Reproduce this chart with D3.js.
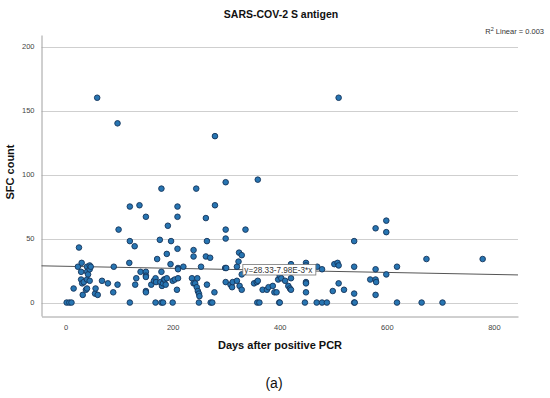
<!DOCTYPE html>
<html>
<head>
<meta charset="utf-8">
<script src="https://cdn.jsdelivr.net/npm/d3@7"></script>
<style>
  body { margin: 0; background: #fff; }
  text { font-family: "Liberation Sans", Arial, sans-serif; }
</style>
</head>
<body>
<div id="chart"></div>
<script>
// days after PCR, SFC count
var days = [2, 7, 11, 120, 168, 179, 182, 200, 249, 271, 274, 358, 362, 399, 400, 447, 469, 479, 488, 539, 540, 619, 665, 704,
  15, 23, 25, 29, 29, 30, 31, 32, 34, 38, 40, 40, 40, 40, 42, 45, 45, 45, 47, 55, 56, 59, 60, 68, 79, 89, 90, 97, 97, 99,
  119, 120, 120, 129, 130, 132, 138, 140, 150, 150, 150, 150, 150, 150, 160, 165, 168, 169, 171, 176, 177, 179, 179, 180, 182, 184, 185, 187, 189, 189, 191, 196, 197, 200, 204, 208,
  209, 209, 209, 210, 210, 210, 220, 236, 239, 239, 239, 242, 244, 245, 246, 247, 249, 250, 253, 262, 262, 264, 264, 270, 278, 279, 279, 298, 299, 299, 299, 299, 300,
  308, 311, 312, 320, 320, 323, 324, 325, 329, 329, 329, 336, 352, 357, 359, 359, 368, 376, 379, 387, 390, 394, 397, 400, 403,
  410, 416, 419, 421, 421, 421, 449, 449, 449, 449, 449, 470, 479, 499, 502, 508, 510, 510, 510, 520,
  539, 539, 539, 569, 579, 579, 579, 580, 579, 599, 599, 599, 619, 674, 779];
var sfc = [0, 0, 0, 0, 0, 0, 0, 0, 0, 0, 0, 0, 0, 0, 0, 0, 0, 0, 0, 0, 0, 0, 0, 0,
  11, 28, 43, 24, 18, 31, 15, 6, 16, 10, 28, 24, 18, 11, 22, 29, 26, 17, 28, 7, 11, 160, 6, 17, 15, 8, 28, 14, 140, 57,
  31, 75, 48, 44, 14, 19, 76, 24, 67, 24, 21, 20, 9, 8, 14, 17, 19, 16, 34, 49, 16, 89, 24, 13, 15, 18, 18, 14, 38, 19, 60, 30, 48, 17, 18, 10,
  75, 67, 42, 27, 26, 19, 28, 19, 41, 36, 15, 15, 89, 12, 19, 9, 7, 5, 28, 66, 36, 48, 14, 35, 8, 76, 130, 27, 94, 57, 50, 16, 27,
  14, 12, 16, 28, 17, 32, 39, 13, 37, 22, 10, 57, 15, 16, 96, 17, 10, 10, 12, 13, 8, 8, 18, 21, 19,
  17, 13, 11, 30, 19, 10, 31, 29, 16, 15, 8, 28, 26, 9, 30, 31, 29, 160, 15, 10,
  48, 28, 7, 18, 58, 26, 18, 16, 6, 64, 55, 22, 28, 34, 34];
var xTicks = [0, 200, 400, 600, 800];
var yTicks = [0, 50, 100, 150, 200];
var fitA = 28.33, fitB = -7.98e-3;

var width = 550, height = 398;
var svg = d3.select("#chart").append("svg")
  .attr("width", width).attr("height", height);

var x = d3.scaleLinear().domain([-45, 845]).range([41.5, 518]);
var y = d3.scaleLinear().domain([-10.5, 209]).range([316, 35]);

// gridlines
svg.append("g").selectAll("line")
  .data(yTicks).enter().append("line")
  .attr("x1", 41.5).attr("x2", 518)
  .attr("y1", function (d) { return Math.round(y(d)) + 0.5; })
  .attr("y2", function (d) { return Math.round(y(d)) + 0.5; })
  .attr("stroke", "#cfcfcf").attr("stroke-width", 1);

// axes
var yAxis = svg.append("g").attr("transform", "translate(41.5,0)")
  .call(d3.axisLeft(y).tickValues(yTicks).tickSize(0).tickPadding(7));
var xAxis = svg.append("g").attr("transform", "translate(0,316.5)")
  .call(d3.axisBottom(x).tickValues(xTicks).tickSize(0).tickPadding(8));
[yAxis, xAxis].forEach(function (a) {
  a.select(".domain").attr("stroke", "#a0a0a0");
  a.selectAll("text").attr("font-size", 7.5).attr("fill", "#444")
    .attr("font-family", "Liberation Sans, Arial, sans-serif");
});

// fit line
var xd = x.domain();
svg.append("line")
  .attr("x1", x(xd[0])).attr("y1", y(fitA + fitB * xd[0]))
  .attr("x2", x(xd[1])).attr("y2", y(fitA + fitB * xd[1]))
  .attr("stroke", "#555").attr("stroke-width", 1);

// points
svg.append("g").selectAll("circle")
  .data(days).enter().append("circle")
  .attr("cx", function (d) { return x(d); })
  .attr("cy", function (d, i) { return y(sfc[i]); })
  .attr("r", 2.8)
  .attr("fill", "#2775b2")
  .attr("stroke", "#15345a")
  .attr("stroke-width", 0.9);

// equation label
var lx = 332;
var lab = svg.append("g").attr("transform", "translate(" + (x(lx) - 0.5) + "," + 264.5 + ")");
lab.append("rect").attr("width", 73).attr("height", 10.5)
  .attr("fill", "#fff").attr("stroke", "#777").attr("stroke-width", 0.8);
lab.append("text").attr("x", 1.5).attr("y", 8.3)
  .attr("font-size", 8.2).attr("fill", "#333")
  .text("y=28.33-7.98E-3*x");

// R2 text
var r2 = svg.append("text").attr("x", 544).attr("y", 34)
  .attr("text-anchor", "end").attr("font-size", 7.5).attr("fill", "#333");
r2.append("tspan").text("R");
r2.append("tspan").attr("dy", -3).attr("font-size", 5.5).text("2");
r2.append("tspan").attr("dy", 3).text(" Linear = 0.003");

// titles
svg.append("text").attr("x", 281).attr("y", 18)
  .attr("text-anchor", "middle").attr("font-size", 10.5)
  .attr("font-weight", "bold").attr("fill", "#111")
  .text("SARS-COV-2 S antigen");

svg.append("text").attr("x", 280).attr("y", 349)
  .attr("text-anchor", "middle").attr("font-size", 11)
  .attr("font-weight", "bold").attr("fill", "#111")
  .text("Days after positive PCR");

svg.append("text")
  .attr("transform", "translate(14,172) rotate(-90)")
  .attr("text-anchor", "middle").attr("font-size", 11)
  .attr("font-weight", "bold").attr("fill", "#111")
  .text("SFC count");

svg.append("text").attr("x", 274).attr("y", 388)
  .attr("text-anchor", "middle").attr("font-size", 14)
  .attr("font-family", "DejaVu Serif, serif").attr("fill", "#111")
  .text("(a)");
</script>
</body>
</html>
